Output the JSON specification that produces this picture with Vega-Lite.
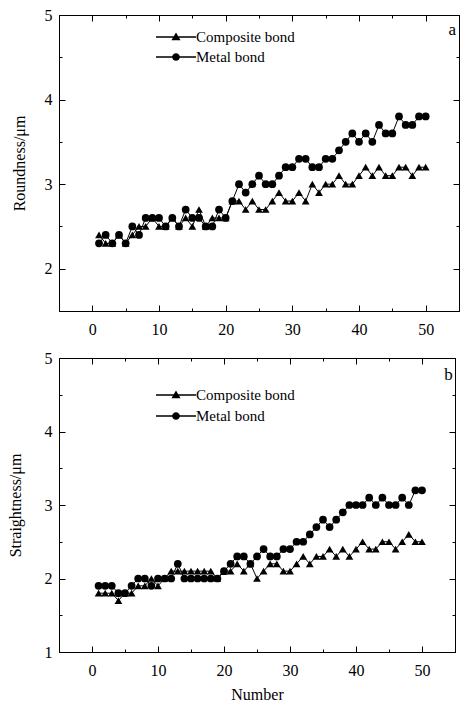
{
  "$schema": "https://vega.github.io/schema/vega-lite/v6.json",
  "padding": {"left": 6, "top": 6, "right": 1, "bottom": 3},
  "datasets": {
    "round": [
      {"n":1,"s":"Composite bond","v":2.4},{"n":2,"s":"Composite bond","v":2.3},{"n":3,"s":"Composite bond","v":2.3},{"n":4,"s":"Composite bond","v":2.4},{"n":5,"s":"Composite bond","v":2.3},
      {"n":6,"s":"Composite bond","v":2.4},{"n":7,"s":"Composite bond","v":2.5},{"n":8,"s":"Composite bond","v":2.5},{"n":9,"s":"Composite bond","v":2.6},{"n":10,"s":"Composite bond","v":2.5},
      {"n":11,"s":"Composite bond","v":2.5},{"n":12,"s":"Composite bond","v":2.6},{"n":13,"s":"Composite bond","v":2.5},{"n":14,"s":"Composite bond","v":2.6},{"n":15,"s":"Composite bond","v":2.5},
      {"n":16,"s":"Composite bond","v":2.7},{"n":17,"s":"Composite bond","v":2.5},{"n":18,"s":"Composite bond","v":2.6},{"n":19,"s":"Composite bond","v":2.6},{"n":20,"s":"Composite bond","v":2.6},
      {"n":21,"s":"Composite bond","v":2.8},{"n":22,"s":"Composite bond","v":2.8},{"n":23,"s":"Composite bond","v":2.7},{"n":24,"s":"Composite bond","v":2.8},{"n":25,"s":"Composite bond","v":2.7},
      {"n":26,"s":"Composite bond","v":2.7},{"n":27,"s":"Composite bond","v":2.8},{"n":28,"s":"Composite bond","v":2.9},{"n":29,"s":"Composite bond","v":2.8},{"n":30,"s":"Composite bond","v":2.8},
      {"n":31,"s":"Composite bond","v":2.9},{"n":32,"s":"Composite bond","v":2.8},{"n":33,"s":"Composite bond","v":3.0},{"n":34,"s":"Composite bond","v":2.9},{"n":35,"s":"Composite bond","v":3.0},
      {"n":36,"s":"Composite bond","v":3.0},{"n":37,"s":"Composite bond","v":3.1},{"n":38,"s":"Composite bond","v":3.0},{"n":39,"s":"Composite bond","v":3.0},{"n":40,"s":"Composite bond","v":3.1},
      {"n":41,"s":"Composite bond","v":3.2},{"n":42,"s":"Composite bond","v":3.1},{"n":43,"s":"Composite bond","v":3.2},{"n":44,"s":"Composite bond","v":3.1},{"n":45,"s":"Composite bond","v":3.1},
      {"n":46,"s":"Composite bond","v":3.2},{"n":47,"s":"Composite bond","v":3.2},{"n":48,"s":"Composite bond","v":3.1},{"n":49,"s":"Composite bond","v":3.2},{"n":50,"s":"Composite bond","v":3.2},
      {"n":1,"s":"Metal bond","v":2.3},{"n":2,"s":"Metal bond","v":2.4},{"n":3,"s":"Metal bond","v":2.3},{"n":4,"s":"Metal bond","v":2.4},{"n":5,"s":"Metal bond","v":2.3},
      {"n":6,"s":"Metal bond","v":2.5},{"n":7,"s":"Metal bond","v":2.4},{"n":8,"s":"Metal bond","v":2.6},{"n":9,"s":"Metal bond","v":2.6},{"n":10,"s":"Metal bond","v":2.6},
      {"n":11,"s":"Metal bond","v":2.5},{"n":12,"s":"Metal bond","v":2.6},{"n":13,"s":"Metal bond","v":2.5},{"n":14,"s":"Metal bond","v":2.7},{"n":15,"s":"Metal bond","v":2.6},
      {"n":16,"s":"Metal bond","v":2.6},{"n":17,"s":"Metal bond","v":2.5},{"n":18,"s":"Metal bond","v":2.5},{"n":19,"s":"Metal bond","v":2.7},{"n":20,"s":"Metal bond","v":2.6},
      {"n":21,"s":"Metal bond","v":2.8},{"n":22,"s":"Metal bond","v":3.0},{"n":23,"s":"Metal bond","v":2.9},{"n":24,"s":"Metal bond","v":3.0},{"n":25,"s":"Metal bond","v":3.1},
      {"n":26,"s":"Metal bond","v":3.0},{"n":27,"s":"Metal bond","v":3.0},{"n":28,"s":"Metal bond","v":3.1},{"n":29,"s":"Metal bond","v":3.2},{"n":30,"s":"Metal bond","v":3.2},
      {"n":31,"s":"Metal bond","v":3.3},{"n":32,"s":"Metal bond","v":3.3},{"n":33,"s":"Metal bond","v":3.2},{"n":34,"s":"Metal bond","v":3.2},{"n":35,"s":"Metal bond","v":3.3},
      {"n":36,"s":"Metal bond","v":3.3},{"n":37,"s":"Metal bond","v":3.4},{"n":38,"s":"Metal bond","v":3.5},{"n":39,"s":"Metal bond","v":3.6},{"n":40,"s":"Metal bond","v":3.5},
      {"n":41,"s":"Metal bond","v":3.6},{"n":42,"s":"Metal bond","v":3.5},{"n":43,"s":"Metal bond","v":3.7},{"n":44,"s":"Metal bond","v":3.6},{"n":45,"s":"Metal bond","v":3.6},
      {"n":46,"s":"Metal bond","v":3.8},{"n":47,"s":"Metal bond","v":3.7},{"n":48,"s":"Metal bond","v":3.7},{"n":49,"s":"Metal bond","v":3.8},{"n":50,"s":"Metal bond","v":3.8}
    ],
    "straight": [
      {"n":1,"s":"Composite bond","v":1.8},{"n":2,"s":"Composite bond","v":1.8},{"n":3,"s":"Composite bond","v":1.8},{"n":4,"s":"Composite bond","v":1.7},{"n":5,"s":"Composite bond","v":1.8},
      {"n":6,"s":"Composite bond","v":1.8},{"n":7,"s":"Composite bond","v":1.9},{"n":8,"s":"Composite bond","v":1.9},{"n":9,"s":"Composite bond","v":2.0},{"n":10,"s":"Composite bond","v":1.9},
      {"n":11,"s":"Composite bond","v":2.0},{"n":12,"s":"Composite bond","v":2.1},{"n":13,"s":"Composite bond","v":2.1},{"n":14,"s":"Composite bond","v":2.1},{"n":15,"s":"Composite bond","v":2.1},
      {"n":16,"s":"Composite bond","v":2.1},{"n":17,"s":"Composite bond","v":2.1},{"n":18,"s":"Composite bond","v":2.1},{"n":19,"s":"Composite bond","v":2.0},{"n":20,"s":"Composite bond","v":2.1},
      {"n":21,"s":"Composite bond","v":2.1},{"n":22,"s":"Composite bond","v":2.2},{"n":23,"s":"Composite bond","v":2.1},{"n":24,"s":"Composite bond","v":2.2},{"n":25,"s":"Composite bond","v":2.0},
      {"n":26,"s":"Composite bond","v":2.1},{"n":27,"s":"Composite bond","v":2.2},{"n":28,"s":"Composite bond","v":2.2},{"n":29,"s":"Composite bond","v":2.1},{"n":30,"s":"Composite bond","v":2.1},
      {"n":31,"s":"Composite bond","v":2.2},{"n":32,"s":"Composite bond","v":2.3},{"n":33,"s":"Composite bond","v":2.2},{"n":34,"s":"Composite bond","v":2.3},{"n":35,"s":"Composite bond","v":2.3},
      {"n":36,"s":"Composite bond","v":2.4},{"n":37,"s":"Composite bond","v":2.3},{"n":38,"s":"Composite bond","v":2.4},{"n":39,"s":"Composite bond","v":2.3},{"n":40,"s":"Composite bond","v":2.4},
      {"n":41,"s":"Composite bond","v":2.5},{"n":42,"s":"Composite bond","v":2.4},{"n":43,"s":"Composite bond","v":2.4},{"n":44,"s":"Composite bond","v":2.5},{"n":45,"s":"Composite bond","v":2.5},
      {"n":46,"s":"Composite bond","v":2.4},{"n":47,"s":"Composite bond","v":2.5},{"n":48,"s":"Composite bond","v":2.6},{"n":49,"s":"Composite bond","v":2.5},{"n":50,"s":"Composite bond","v":2.5},
      {"n":1,"s":"Metal bond","v":1.9},{"n":2,"s":"Metal bond","v":1.9},{"n":3,"s":"Metal bond","v":1.9},{"n":4,"s":"Metal bond","v":1.8},{"n":5,"s":"Metal bond","v":1.8},
      {"n":6,"s":"Metal bond","v":1.9},{"n":7,"s":"Metal bond","v":2.0},{"n":8,"s":"Metal bond","v":2.0},{"n":9,"s":"Metal bond","v":1.9},{"n":10,"s":"Metal bond","v":2.0},
      {"n":11,"s":"Metal bond","v":2.0},{"n":12,"s":"Metal bond","v":2.0},{"n":13,"s":"Metal bond","v":2.2},{"n":14,"s":"Metal bond","v":2.0},{"n":15,"s":"Metal bond","v":2.0},
      {"n":16,"s":"Metal bond","v":2.0},{"n":17,"s":"Metal bond","v":2.0},{"n":18,"s":"Metal bond","v":2.0},{"n":19,"s":"Metal bond","v":2.0},{"n":20,"s":"Metal bond","v":2.1},
      {"n":21,"s":"Metal bond","v":2.2},{"n":22,"s":"Metal bond","v":2.3},{"n":23,"s":"Metal bond","v":2.3},{"n":24,"s":"Metal bond","v":2.2},{"n":25,"s":"Metal bond","v":2.3},
      {"n":26,"s":"Metal bond","v":2.4},{"n":27,"s":"Metal bond","v":2.3},{"n":28,"s":"Metal bond","v":2.3},{"n":29,"s":"Metal bond","v":2.4},{"n":30,"s":"Metal bond","v":2.4},
      {"n":31,"s":"Metal bond","v":2.5},{"n":32,"s":"Metal bond","v":2.5},{"n":33,"s":"Metal bond","v":2.6},{"n":34,"s":"Metal bond","v":2.7},{"n":35,"s":"Metal bond","v":2.8},
      {"n":36,"s":"Metal bond","v":2.7},{"n":37,"s":"Metal bond","v":2.8},{"n":38,"s":"Metal bond","v":2.9},{"n":39,"s":"Metal bond","v":3.0},{"n":40,"s":"Metal bond","v":3.0},
      {"n":41,"s":"Metal bond","v":3.0},{"n":42,"s":"Metal bond","v":3.1},{"n":43,"s":"Metal bond","v":3.0},{"n":44,"s":"Metal bond","v":3.1},{"n":45,"s":"Metal bond","v":3.0},
      {"n":46,"s":"Metal bond","v":3.0},{"n":47,"s":"Metal bond","v":3.1},{"n":48,"s":"Metal bond","v":3.0},{"n":49,"s":"Metal bond","v":3.2},{"n":50,"s":"Metal bond","v":3.2}
    ]
  },
  "vconcat": [
    {
      "width": 400,
      "height": 296,
      "data": {"name": "round"},
      "layer": [
        {
          "mark": {"type": "line", "color": "black", "strokeWidth": 1},
          "encoding": {
            "x": {"field": "n", "type": "quantitative", "scale": {"domain": [-5, 55], "nice": false},
              "axis": {"orient": "bottom", "title": null, "labelPadding": 16, "values": [0,10,20,30,40,50], "tickSize": -6}},
            "y": {"field": "v", "type": "quantitative", "scale": {"domain": [1.5, 5], "nice": false},
              "axis": {"orient": "left", "title": "Roundness/μm", "labelPadding": 13, "titlePadding": 17, "values": [2,3,4,5], "format": "d", "tickSize": -6}},
            "detail": {"field": "s"}
          }
        },
        {
          "mark": {"type": "point", "filled": true, "color": "black", "opacity": 1, "size": 60},
          "encoding": {
            "x": {"field": "n", "type": "quantitative",
              "axis": {"orient": "bottom", "title": null, "labels": false, "domain": false, "values": [5,15,25,35,45], "tickSize": -3}},
            "y": {"field": "v", "type": "quantitative",
              "axis": {"orient": "left", "title": null, "labels": false, "domain": false, "values": [2.5,3.5,4.5], "tickSize": -3}},
            "shape": {"field": "s", "type": "nominal", "scale": {"domain": ["Composite bond", "Metal bond"], "range": ["triangle-up", "circle"]}, "legend": null}
          }
        },
        {
          "mark": {"type": "point", "filled": true, "color": "black", "opacity": 0},
          "encoding": {
            "x": {"field": "n", "type": "quantitative", "axis": null},
            "y": {"field": "v", "type": "quantitative", "axis": null},
            "shape": {"field": "s", "type": "nominal",
              "scale": {"domain": ["Composite bond", "Metal bond"], "range": ["M-2.86,-0.1H2.86V0.1H-2.86ZM0,-0.65L0.65,0.45L-0.65,0.45Z", "M-2.86,-0.1H2.86V0.1H-2.86ZM0.55,0A0.55,0.55,0,1,1,-0.55,0A0.55,0.55,0,1,1,0.55,0Z"]},
              "legend": {"title": null, "orient": "none", "legendX": 109, "legendY": 14, "rowPadding": 4, "labelOffset": 12,
                "symbolOpacity": 1, "symbolFillColor": "black"}}
          }
        },
        {
          "data": {"values": [{"x": 54, "y": 4.82, "t": "a"}]},
          "mark": {"type": "text", "font": "Liberation Serif", "fontSize": 17, "color": "black"},
          "encoding": {
            "x": {"field": "x", "type": "quantitative", "axis": {"orient": "top", "title": null, "labels": false, "values": [0,10,20,30,40,50], "tickSize": -6}},
            "y": {"field": "y", "type": "quantitative", "axis": {"orient": "right", "title": null, "labels": false, "values": [2,3,4,5], "tickSize": -6}},
            "text": {"field": "t"}
          }
        },
        {
          "data": {"values": [{"x": 54, "y": 4.82, "t": ""}]},
          "mark": {"type": "text", "opacity": 0},
          "encoding": {
            "x": {"field": "x", "type": "quantitative", "axis": {"orient": "top", "title": null, "labels": false, "domain": false, "values": [5,15,25,35,45], "tickSize": -3}},
            "y": {"field": "y", "type": "quantitative", "axis": {"orient": "right", "title": null, "labels": false, "domain": false, "values": [2.5,3.5,4.5], "tickSize": -3}},
            "text": {"field": "t"}
          }
        }
      ],
      "resolve": {"axis": {"x": "independent", "y": "independent"}, "scale": {"shape": "independent"}}
    },
    {
      "width": 396,
      "height": 294,
      "data": {"name": "straight"},
      "layer": [
        {
          "mark": {"type": "line", "color": "black", "strokeWidth": 1},
          "encoding": {
            "x": {"field": "n", "type": "quantitative", "scale": {"domain": [-5, 55], "nice": false},
              "axis": {"orient": "bottom", "title": "Number", "labelPadding": 16, "titlePadding": 8, "values": [0,10,20,30,40,50], "tickSize": -6}},
            "y": {"field": "v", "type": "quantitative", "scale": {"domain": [1, 5], "nice": false},
              "axis": {"orient": "left", "title": "Straightness/μm", "labelPadding": 13, "titlePadding": 21, "values": [1,2,3,4,5], "format": "d", "tickSize": -6}},
            "detail": {"field": "s"}
          }
        },
        {
          "mark": {"type": "point", "filled": true, "color": "black", "opacity": 1, "size": 60},
          "encoding": {
            "x": {"field": "n", "type": "quantitative",
              "axis": {"orient": "bottom", "title": null, "labels": false, "domain": false, "values": [5,15,25,35,45], "tickSize": -3}},
            "y": {"field": "v", "type": "quantitative",
              "axis": {"orient": "left", "title": null, "labels": false, "domain": false, "values": [1.5,2.5,3.5,4.5], "tickSize": -3}},
            "shape": {"field": "s", "type": "nominal", "scale": {"domain": ["Composite bond", "Metal bond"], "range": ["triangle-up", "circle"]}, "legend": null}
          }
        },
        {
          "mark": {"type": "point", "filled": true, "color": "black", "opacity": 0},
          "encoding": {
            "x": {"field": "n", "type": "quantitative", "axis": null},
            "y": {"field": "v", "type": "quantitative", "axis": null},
            "shape": {"field": "s", "type": "nominal",
              "scale": {"domain": ["Composite bond", "Metal bond"], "range": ["M-2.86,-0.1H2.86V0.1H-2.86ZM0,-0.65L0.65,0.45L-0.65,0.45Z", "M-2.86,-0.1H2.86V0.1H-2.86ZM0.55,0A0.55,0.55,0,1,1,-0.55,0A0.55,0.55,0,1,1,0.55,0Z"]},
              "legend": {"title": null, "orient": "none", "legendX": 109, "legendY": 29, "rowPadding": 5, "labelOffset": 12,
                "symbolOpacity": 1, "symbolFillColor": "black"}}
          }
        },
        {
          "data": {"values": [{"x": 54, "y": 4.77, "t": "b"}]},
          "mark": {"type": "text", "font": "Liberation Serif", "fontSize": 17, "color": "black"},
          "encoding": {
            "x": {"field": "x", "type": "quantitative", "axis": {"orient": "top", "title": null, "labels": false, "values": [0,10,20,30,40,50], "tickSize": -6}},
            "y": {"field": "y", "type": "quantitative", "axis": {"orient": "right", "title": null, "labels": false, "values": [1,2,3,4,5], "tickSize": -6}},
            "text": {"field": "t"}
          }
        },
        {
          "data": {"values": [{"x": 54, "y": 4.77, "t": ""}]},
          "mark": {"type": "text", "opacity": 0},
          "encoding": {
            "x": {"field": "x", "type": "quantitative", "axis": {"orient": "top", "title": null, "labels": false, "domain": false, "values": [5,15,25,35,45], "tickSize": -3}},
            "y": {"field": "y", "type": "quantitative", "axis": {"orient": "right", "title": null, "labels": false, "domain": false, "values": [1.5,2.5,3.5,4.5], "tickSize": -3}},
            "text": {"field": "t"}
          }
        }
      ],
      "resolve": {"axis": {"x": "independent", "y": "independent"}, "scale": {"shape": "independent"}}
    }
  ],
  "spacing": 11,
  "resolve": {"legend": {"shape": "independent"}, "scale": {"shape": "independent"}},
  "config": {
    "font": "Liberation Serif",
    "view": {"stroke": "black", "strokeWidth": 1},
    "axis": {"labelFont": "Liberation Serif", "titleFont": "Liberation Serif", "labelFontSize": 16, "titleFontSize": 16, "titleFontWeight": "normal",
      "labelColor": "black", "titleColor": "black", "domainColor": "black", "tickColor": "black", "grid": false, "labelOverlap": false, "labelFlush": false},
    "legend": {"labelFont": "Liberation Serif", "labelFontSize": 15, "labelColor": "black", "symbolSize": 196, "labelLimit": 300}
  }
}
